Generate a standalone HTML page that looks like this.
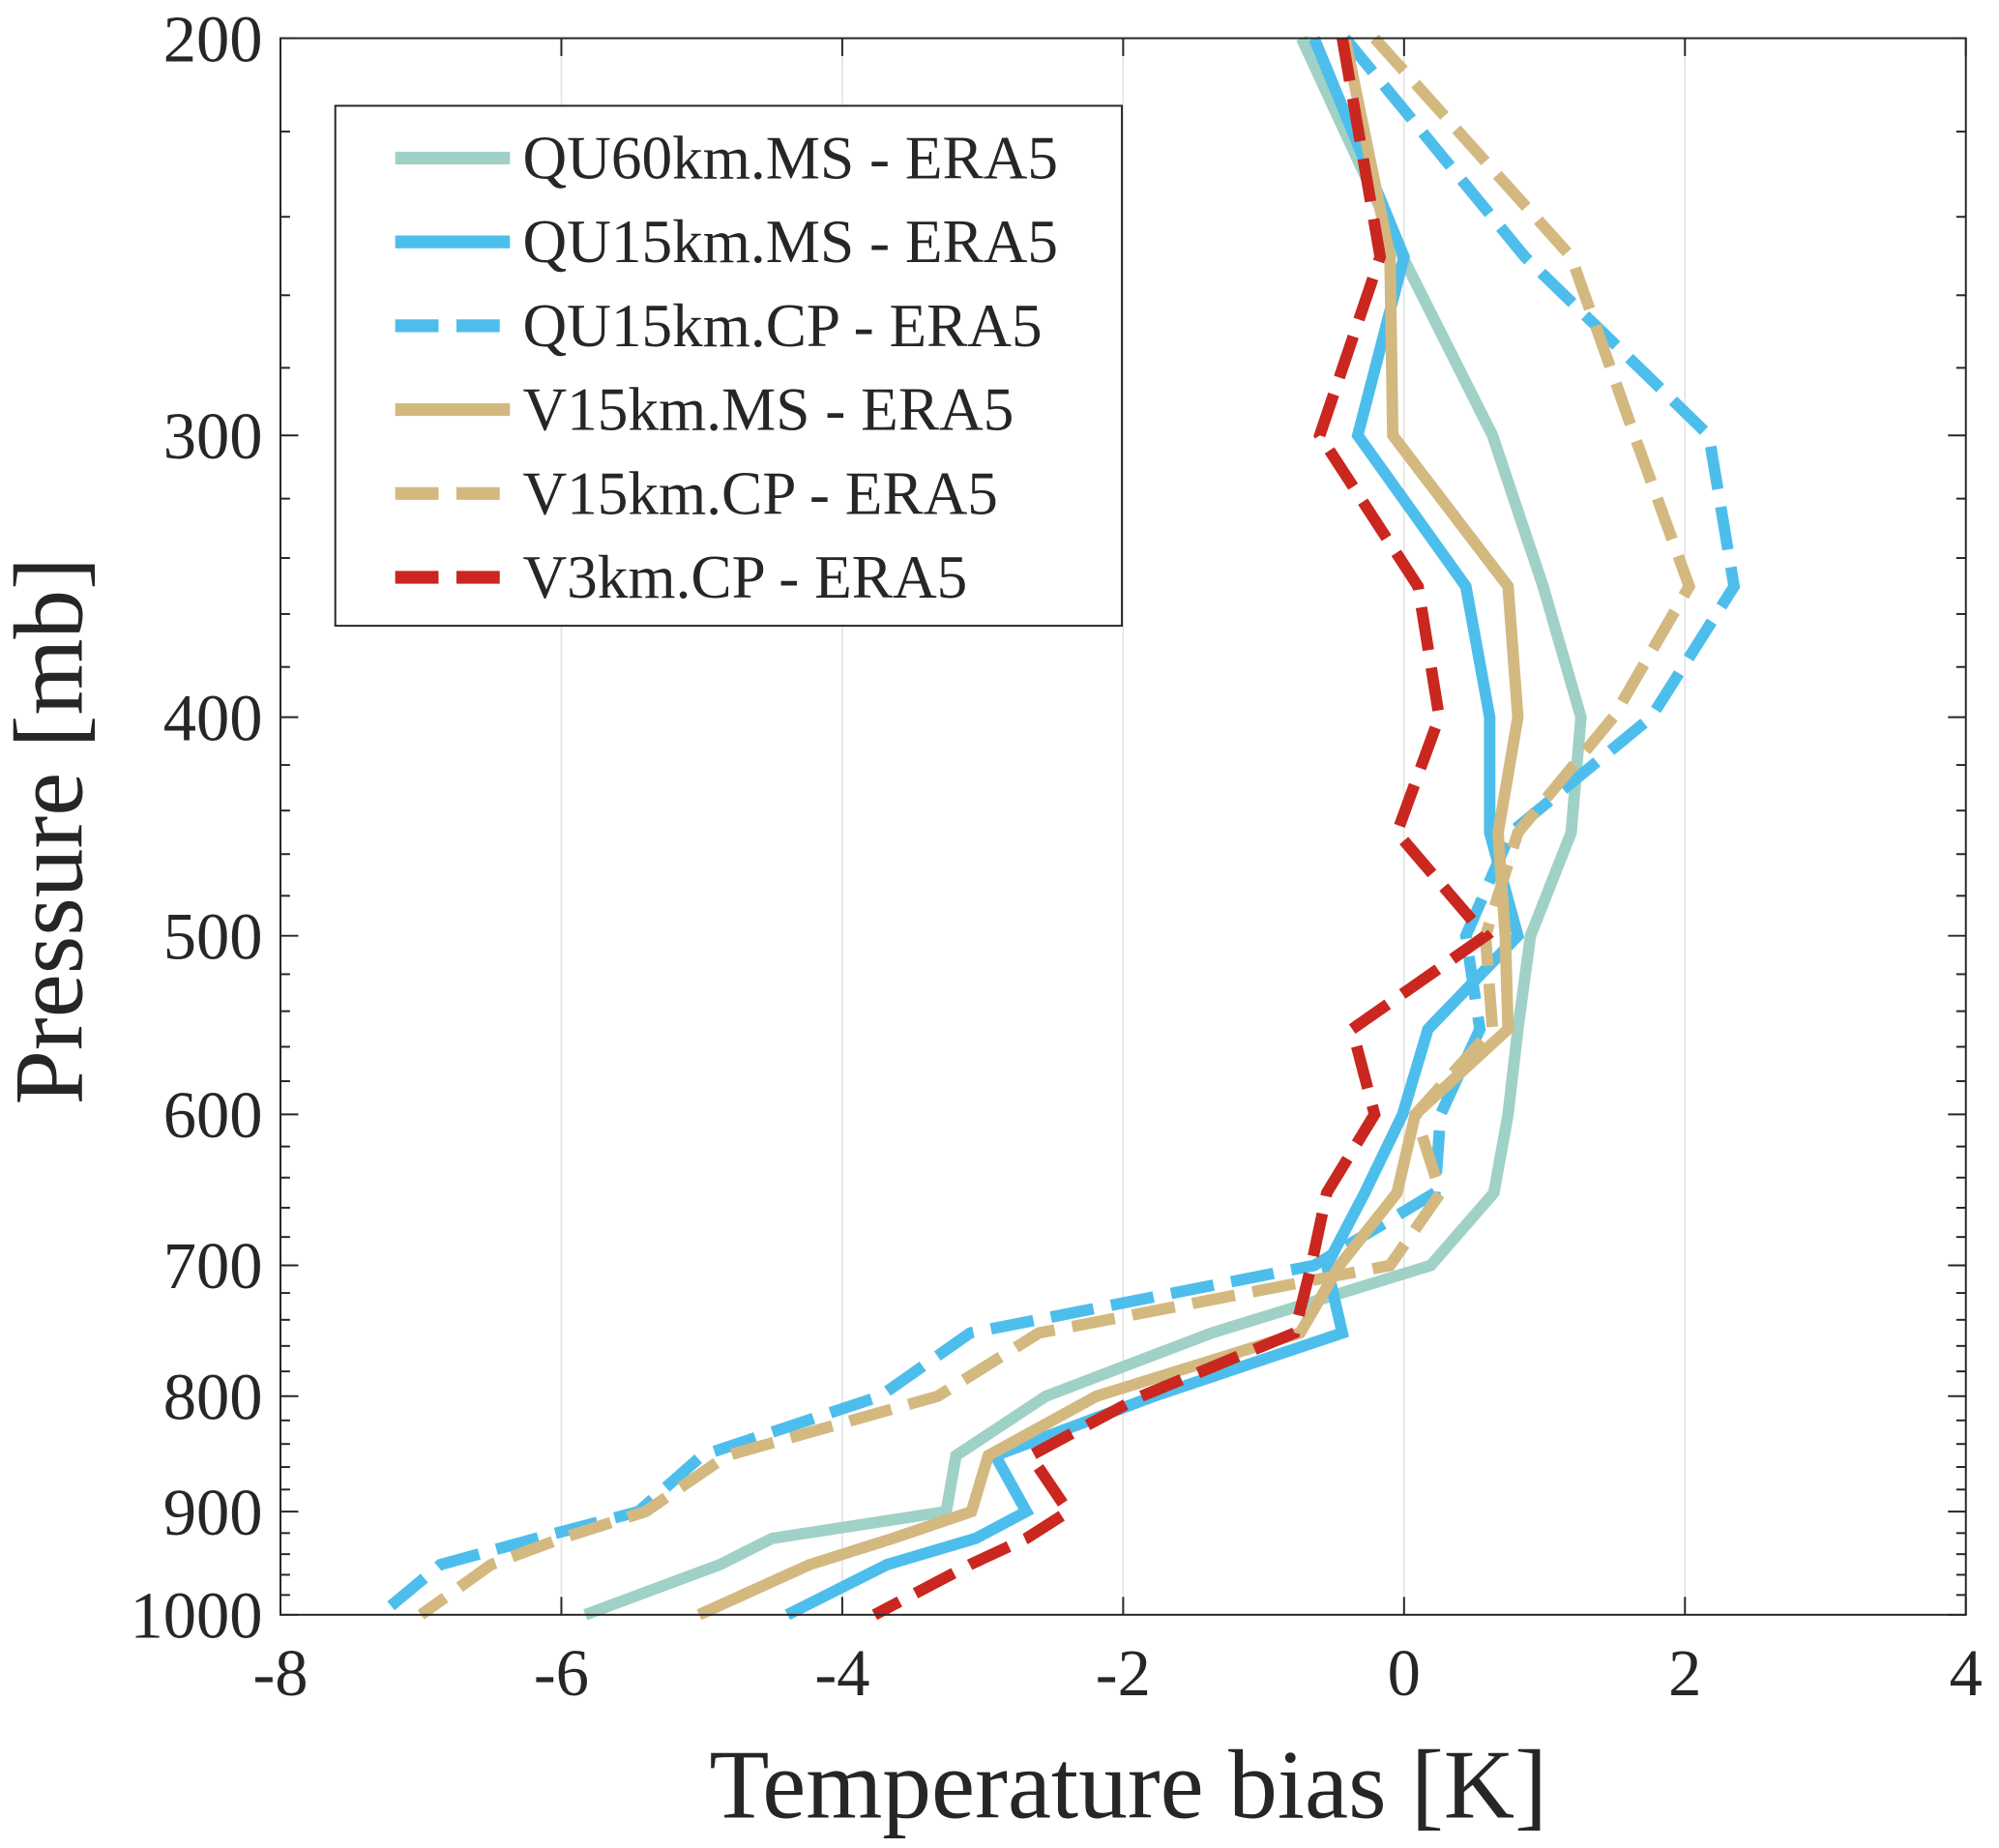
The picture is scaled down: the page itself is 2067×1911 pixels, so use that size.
<!DOCTYPE html>
<html><head><meta charset="utf-8"><style>
html,body{margin:0;padding:0;background:#fff;}
svg{display:block;}
text{font-family:"Liberation Serif",serif;fill:#262626;}
</style></head><body>
<svg id="chart" width="2067" height="1911" viewBox="0 0 1568 1450" preserveAspectRatio="none" xmlns="http://www.w3.org/2000/svg">
<g id="grid"></g>
<g id="series"></g>
<g id="axes"></g>
<g id="legend"></g>
<text x="885" y="1426" text-anchor="middle" font-size="77">Temperature bias [K]</text>
<text transform="translate(64,652) rotate(-90)" text-anchor="middle" font-size="77">Pressure [mb]</text>
</svg>
<script>
const levels=[200,250,300,350,400,450,500,550,600,650,700,750,800,850,900,925,950,1000];
const qu60ms=[-0.73,-0.01,0.63,0.99,1.26,1.19,0.90,0.81,0.74,0.64,0.19,-1.37,-2.55,-3.19,-3.26,-4.50,-4.87,-5.83];
const qu15ms=[-0.64,0.0,-0.33,0.44,0.61,0.61,0.81,0.17,-0.01,-0.28,-0.55,-0.44,-1.78,-2.91,-2.69,-3.05,-3.68,-4.39];
const qu15cp=[-0.42,0.86,2.17,2.35,1.76,0.76,0.44,0.54,0.26,0.22,-0.64,-3.09,-3.73,-5.00,-5.45,-6.18,-6.86,-7.29];
const v15ms=[-0.42,-0.10,-0.08,0.74,0.81,0.67,0.72,0.74,0.08,-0.05,-0.46,-0.74,-2.19,-2.96,-3.08,-3.64,-4.23,-5.02];
const v15cp=[-0.21,1.19,1.64,2.03,1.49,0.81,0.58,0.63,0.08,0.26,-0.10,-2.60,-3.32,-4.82,-5.40,-6.00,-6.50,-7.00];
const v3cp=[-0.44,-0.17,-0.60,0.10,0.25,-0.05,0.58,-0.37,-0.21,-0.55,-0.66,-0.78,-1.87,-2.66,-2.39,-2.69,-3.09,-3.77];
const xTicks=[-8,-6,-4,-2,0,2,4];
const yTicks=[200,300,400,500,600,700,800,900,1000];
const seriesNames=["QU60km.MS - ERA5","QU15km.MS - ERA5","QU15km.CP - ERA5","V15km.MS - ERA5","V15km.CP - ERA5","V3km.CP - ERA5"];

const L=220,R=1542,T=30,B=1267,XMIN=-8,XMAX=4,PMIN=200,PMAX=1000;
const sx=v=>L+(v-XMIN)/(XMAX-XMIN)*(R-L);
const sy=p=>T+Math.log(p/PMIN)/Math.log(PMAX/PMIN)*(B-T);
const NS="http://www.w3.org/2000/svg";
function mk(tag,parent,attrs){const e=document.createElementNS(NS,tag);for(const k in attrs)e.setAttribute(k,attrs[k]);parent.appendChild(e);return e;}
const grid=document.getElementById('grid'),axes=document.getElementById('axes'),ser=document.getElementById('series'),leg=document.getElementById('legend');
mk('rect',grid,{x:L,y:T,width:R-L,height:B-T,fill:'#fff'});
xTicks.forEach(v=>{
 const g=mk('line',grid,{x1:sx(v),x2:sx(v),y1:T,y2:B,stroke:'#e3e3e3','stroke-width':1.2});
 
 
 const t=mk('line',axes,{x1:sx(v),x2:sx(v),y1:B,y2:B-14,stroke:'#262626','stroke-width':1.5});
 
 
 const t2=mk('line',axes,{x1:sx(v),x2:sx(v),y1:T,y2:T+14,stroke:'#262626','stroke-width':1.5});
 
 
 const lb=mk('text',axes,{x:sx(v),y:B+63,'text-anchor':'middle','font-size':52});
 lb.textContent=v;
 
 
});
for(let p=220;p<1000;p+=20){
 if(p%100===0)continue;
 [[L,L+7.5],[R,R-7.5]].forEach(([a,b])=>{
  const m=mk('line',axes,{x1:a,x2:b,y1:sy(p),y2:sy(p),stroke:'#262626','stroke-width':1.5});
  
  
 });
}
yTicks.forEach(p=>{
 [[L,L+14],[R,R-14]].forEach(([a,b])=>{
  const m=mk('line',axes,{x1:a,x2:b,y1:sy(p),y2:sy(p),stroke:'#262626','stroke-width':1.5});
  
  
 });
 const lb=mk('text',axes,{x:L-14,y:sy(p)+18,'text-anchor':'end','font-size':52});
 lb.textContent=p;
 
 
});
const frame=mk('rect',axes,{x:L,y:T,width:R-L,height:B-T,fill:'none',stroke:'#262626','stroke-width':1.5});



const styles=[
 {d:qu60ms,c:'#a0d1c6',dash:null,n:'series-qu60km-ms'},
 {d:qu15ms,c:'#4dbeec',dash:null,n:'series-qu15km-ms'},
 {d:qu15cp,c:'#4dbeec',dash:'34 14',n:'series-qu15km-cp'},
 {d:v15ms,c:'#d3b880',dash:null,n:'series-v15km-ms'},
 {d:v15cp,c:'#d3b880',dash:'34 14',n:'series-v15km-cp'},
 {d:v3cp,c:'#c9271f',dash:'34 14',n:'series-v3km-cp'}];
styles.forEach(s=>{
 const pts=s.d.map((v,i)=>sx(v).toFixed(1)+','+sy(levels[i]).toFixed(1)).join(' ');
 const a={points:pts,fill:'none',stroke:s.c,'stroke-width':9,'stroke-linejoin':'miter'};
 if(s.dash)a['stroke-dasharray']=s.dash;
 const pl=mk('polyline',ser,a);
 
 
});
const box=mk('rect',leg,{x:263,y:83,width:617,height:408,fill:'#fff',stroke:'#262626','stroke-width':1.5});


styles.forEach((s,i)=>{
 const y=124+i*65.8;
 const a={x1:310,x2:400,y1:y,y2:y,stroke:s.c,'stroke-width':10};
 if(s.dash)a['stroke-dasharray']='34 14';
 const ln=mk('line',leg,a);
 
 
 const t=mk('text',leg,{x:410,y:y+16,'font-size':48});
 t.textContent=seriesNames[i];
 
 
});
</script>
</body></html>
